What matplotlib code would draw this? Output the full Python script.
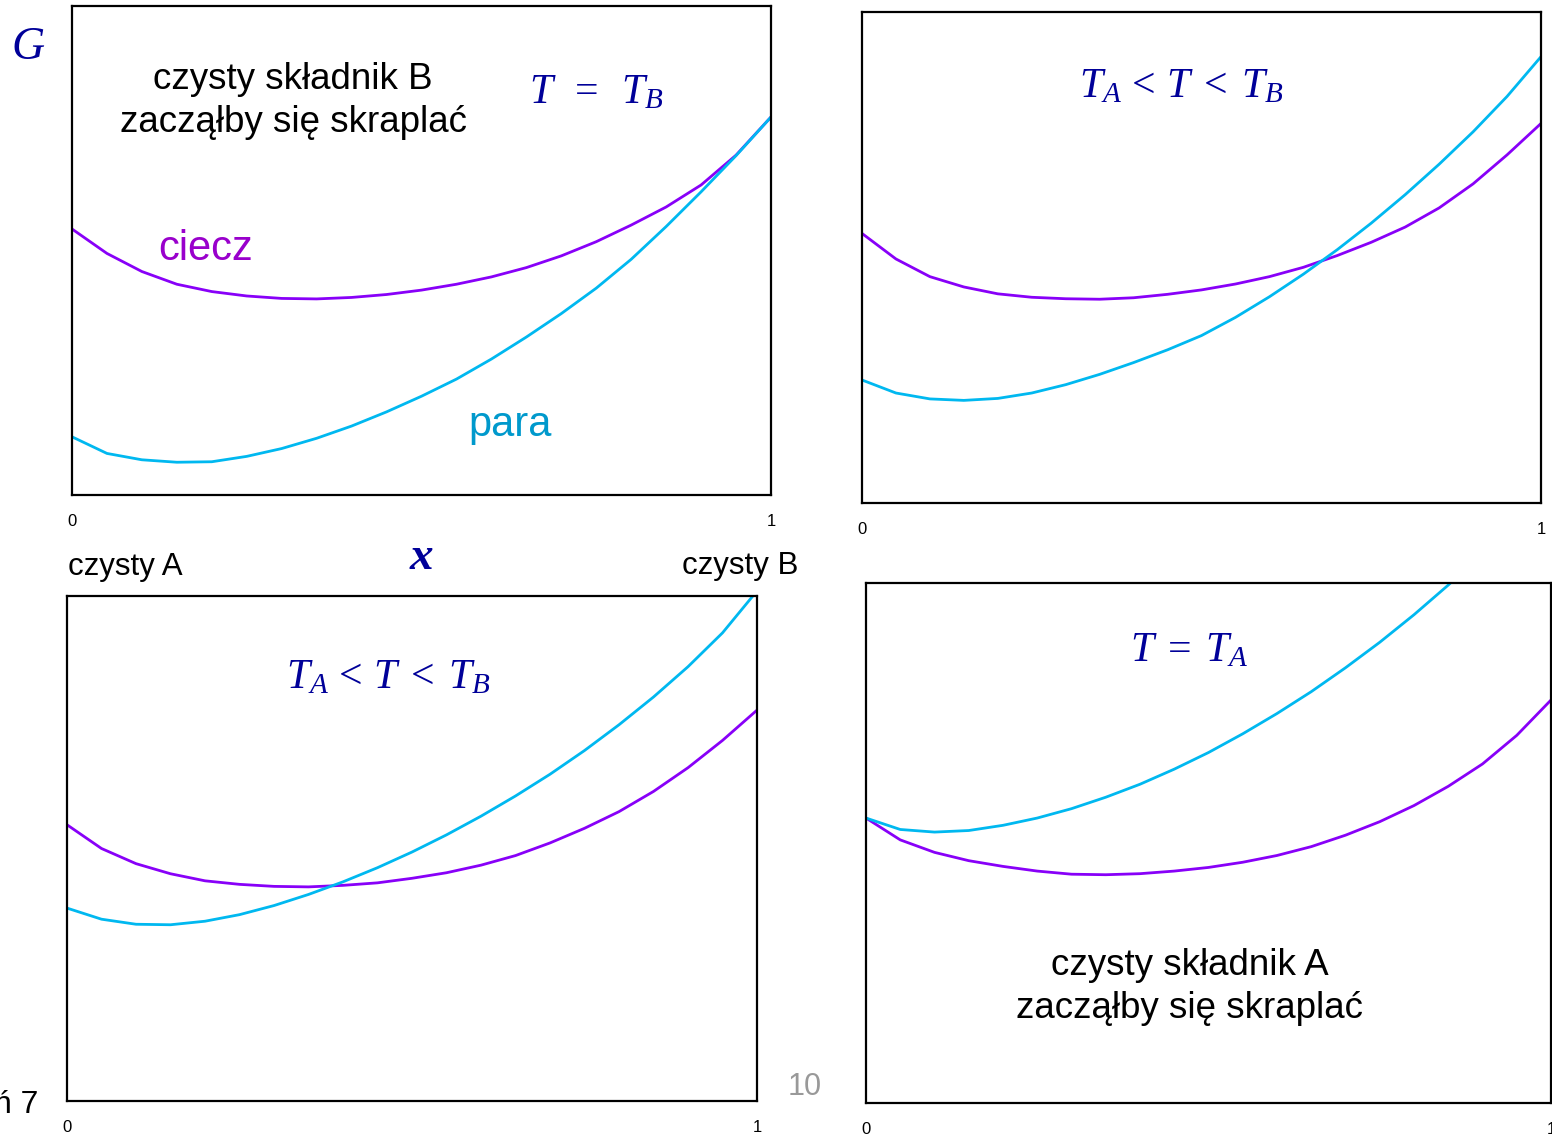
import matplotlib
matplotlib.use('Agg')
import matplotlib.pyplot as plt
import numpy as np

# mole fraction of B, common grid for all curves
x = np.linspace(0, 1, 21)

# top left: T = T_B
liq_TB = [0.544, 0.494, 0.457, 0.431, 0.416, 0.407, 0.402, 0.401, 0.404, 0.410, 0.419,
          0.431, 0.446, 0.465, 0.489, 0.518, 0.552, 0.589, 0.634, 0.695, 0.773]
vap_TB = [0.119, 0.085, 0.072, 0.067, 0.068, 0.079, 0.095, 0.116, 0.141, 0.170, 0.202,
          0.237, 0.278, 0.323, 0.371, 0.423, 0.482, 0.549, 0.620, 0.694, 0.773]

# top right: TA < T < TB (closer to TB)
liq_hi = [0.549, 0.497, 0.461, 0.440, 0.426, 0.419, 0.416, 0.415, 0.418, 0.425, 0.434,
          0.446, 0.461, 0.480, 0.504, 0.531, 0.562, 0.601, 0.650, 0.709, 0.773]
vap_hi = [0.2505, 0.224, 0.212, 0.209, 0.213, 0.224, 0.241, 0.262, 0.286, 0.312, 0.341,
          0.378, 0.420, 0.466, 0.516, 0.570, 0.628, 0.690, 0.756, 0.828, 0.909]

# bottom left: TA < T < TB (closer to TA)
liq_lo = [0.547, 0.500, 0.470, 0.450, 0.436, 0.429, 0.425, 0.424, 0.427, 0.432, 0.441,
          0.452, 0.467, 0.486, 0.511, 0.540, 0.573, 0.613, 0.660, 0.714, 0.774]
vap_lo = [0.382, 0.360, 0.350, 0.349, 0.356, 0.369, 0.387, 0.409, 0.434, 0.462, 0.493,
          0.527, 0.564, 0.604, 0.647, 0.694, 0.745, 0.800, 0.860, 0.927, 1.010]

# bottom right: T = T_A
liq_TA = [0.548, 0.506, 0.482, 0.466, 0.455, 0.446, 0.440, 0.439, 0.441, 0.446, 0.453,
          0.463, 0.476, 0.493, 0.515, 0.541, 0.572, 0.609, 0.652, 0.707, 0.775]
vap_TA = [0.548, 0.526, 0.521, 0.524, 0.534, 0.548, 0.566, 0.588, 0.613, 0.642, 0.674,
          0.710, 0.749, 0.791, 0.837, 0.886, 0.939, 0.996, 1.057, 1.122, 1.192]

tick_pos = [0, 1]
tick_lab = ['0', '1']

LIQ = '#8800F8'
VAP = '#00B8F0'
NAVY = '#000099'

plt.rcParams['mathtext.fontset'] = 'custom'
plt.rcParams['mathtext.rm'] = 'Liberation Serif'
plt.rcParams['mathtext.it'] = 'Liberation Serif:italic'
plt.rcParams['font.family'] = ['Liberation Sans', 'DejaVu Sans']

W, H = 1552, 1137
fig = plt.figure(figsize=(W / 100, H / 100), dpi=100)


def panel(left, top, right, bottom, liq, vap):
    ax = fig.add_axes([left / W, 1 - bottom / H, (right - left) / W, (bottom - top) / H])
    ax.plot(x, liq, color=LIQ, lw=2.0, solid_joinstyle='round')
    ax.plot(x, vap, color=VAP, lw=2.0, solid_joinstyle='round')
    ax.set_xlim(0, 1)
    ax.set_ylim(0, 1)
    ax.set_xticks(tick_pos, tick_lab)
    ax.set_yticks([])
    ax.tick_params(axis='x', length=0, pad=14, labelsize=12)
    for s in ax.spines.values():
        s.set_linewidth(1.6)
    return ax


def label(px, py, s, **kw):
    fig.text(px / W, 1 - py / H, s, **kw)


panel(72, 6, 771, 495, liq_TB, vap_TB)
panel(862, 12, 1541, 503, liq_hi, vap_hi)
panel(67, 596, 757, 1101, liq_lo, vap_lo)
panel(866, 583, 1551, 1103, liq_TA, vap_TA)

# axis names
label(28, 48, 'G', fontsize=33, color=NAVY, ha='center', va='center',
      family='Liberation Serif', style='italic')
label(421, 558, 'x', fontsize=34, color=NAVY, ha='center', va='center',
      family='Liberation Serif', style='italic', weight='bold')
label(68, 567, 'czysty A', fontsize=22.5, ha='left', va='center')
label(798, 566, 'czysty B', fontsize=22.5, ha='right', va='center')

# temperature conditions
label(596, 92, r'$T\;\;=\;\;T_B$', fontsize=30, color=NAVY, ha='center', va='center')
label(1182, 86, r'$T_A\,<\,T\;<\;T_B$', fontsize=30, color=NAVY, ha='center', va='center')
label(389, 677, r'$T_A\,<\,T\;<\;T_B$', fontsize=30, color=NAVY, ha='center', va='center')
label(1189, 650, r'$T\;=\;T_A$', fontsize=30, color=NAVY, ha='center', va='center')

# phase names
label(206, 249, 'ciecz', fontsize=30, color='#9900CC', ha='center', va='center')
label(510, 425, 'para', fontsize=30, color='#0099CC', ha='center', va='center')

label(293, 101, 'czysty składnik B\nzacząłby się skraplać', fontsize=26.5,
      ha='center', va='center', linespacing=1.3)
label(1190, 987, 'czysty składnik A\nzacząłby się skraplać', fontsize=26.5,
      ha='center', va='center', linespacing=1.3)

# page footer bits
label(805, 1087, '10', fontsize=22, color='#999999', ha='center', va='center')
label(38, 1105, 'ń 7', fontsize=23, ha='right', va='center')

plt.savefig('out.png', dpi=100)
